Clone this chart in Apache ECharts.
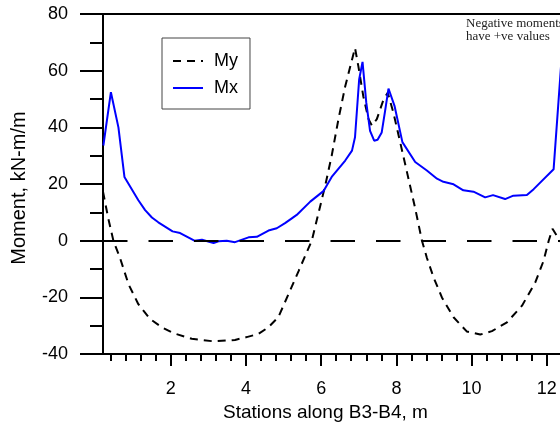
<!DOCTYPE html>
<html>
<head>
<meta charset="utf-8">
<script src="https://cdn.jsdelivr.net/npm/echarts@6/dist/echarts.min.js"></script>
<style>
  html, body { margin: 0; padding: 0; background: #fff; }
  #chart { width: 560px; height: 427px; }
</style>
</head>
<body>
<div id="chart"></div>
<script>
// stations (m) and moments (kN-m/m)
const myStations = [0.2, 0.34, 0.48, 0.65, 0.88, 1.14, 1.45, 1.76, 2.07, 2.56, 3.14, 3.71, 4.02, 4.33, 4.6, 4.86, 5.13, 5.4, 5.75, 6.11, 6.28, 6.46, 6.64, 6.9, 6.99, 7.12, 7.26, 7.35, 7.48, 7.66, 7.77, 7.92, 8.1, 8.28, 8.5, 8.68, 8.81, 8.99, 9.21, 9.52, 9.87, 10.23, 10.54, 10.94, 11.34, 11.69, 11.91, 12.05, 12.15, 12.4];
const myValues = [17.3, 7.9, -0.2, -6, -15.4, -22.4, -27.6, -30.5, -32.6, -34.6, -35.5, -35.0, -34, -32.9, -30.5, -27, -18.9, -10.7, 0, 19.6, 30, 42.9, 54.5, 68, 61.5, 51, 42.9, 40.6, 42.9, 49.9, 52.2, 45.2, 34.8, 24.3, 11.4, 0, -6, -13, -20, -27, -32, -33.1, -31.9, -28.8, -22.9, -14.8, -7.2, 0, 4.2, -1];

const mxStations = [0.21, 0.41, 0.61, 0.77, 1.14, 1.32, 1.5, 1.67, 2.05, 2.25, 2.63, 2.83, 3.14, 3.27, 3.49, 3.71, 4.07, 4.29, 4.6, 4.82, 5.04, 5.22, 5.35, 5.71, 6.06, 6.28, 6.64, 6.82, 6.9, 7.01, 7.1, 7.2, 7.3, 7.41, 7.5, 7.61, 7.7, 7.79, 7.95, 8.16, 8.5, 8.81, 9.08, 9.25, 9.52, 9.78, 10.05, 10.36, 10.57, 10.89, 11.11, 11.47, 11.65, 12.18, 12.45];
const mxValues = [33.6, 52.4, 40, 22.5, 14.3, 10.8, 8.2, 6.5, 3.3, 2.7, 0, 0.35, -0.8, -0.2, 0, -0.5, 1.2, 1.4, 3.6, 4.4, 6.2, 7.9, 9.1, 13.8, 17.5, 22.5, 28.3, 31.8, 36.5, 56.9, 63.1, 48.7, 38.8, 35.3, 35.6, 38.2, 45.8, 53.7, 47.6, 34.8, 27.8, 24.8, 21.9, 20.8, 19.9, 17.8, 17.3, 15.3, 16.1, 14.7, 15.9, 16.1, 18.2, 25.2, 75];

const xMajorTicks = [2, 4, 6, 8, 10, 12];
const xMinorTicks = [0.4, 0.8, 1.2, 1.6, 2.4, 2.8, 3.2, 3.6, 4.4, 4.8, 5.2, 5.6, 6.4, 6.8, 7.2, 7.6, 8.4, 8.8, 9.2, 9.6, 10.4, 10.8, 11.2, 11.6];

function pairs(xs, ys) {
    return xs.map(function (x, i) { return [x, ys[i]]; });
}

var font = 'Liberation Sans, Arial, sans-serif';
var chart = echarts.init(document.getElementById('chart'), null, { renderer: 'canvas' });

// the plot runs past the right edge of the picture, so the axis stops at 12.35
var axisCommon = {
    type: 'value',
    min: 0.2,
    max: 12.35,
    splitLine: { show: false }
};

var option = {
    animation: false,
    backgroundColor: '#fff',
    grid: { left: 103, top: 14, right: 0, height: 343 },
    legend: {
        orient: 'vertical',
        left: 162,
        top: 38,
        padding: [14, 12, 12, 10],
        itemWidth: 30,
        itemHeight: 14,
        itemGap: 9,
        borderColor: '#444',
        borderWidth: 1,
        itemStyle: { opacity: 0 },
        textStyle: { fontFamily: font, fontSize: 18, color: '#000', padding: [0, 0, 0, 6] },
        data: ['My', 'Mx']
    },
    xAxis: [
        Object.assign({}, axisCommon, {
            position: 'bottom',
            name: 'Stations along B3-B4, m',
            nameLocation: 'middle',
            nameGap: 47,
            nameTextStyle: { fontFamily: font, fontSize: 19, color: '#000', padding: [0, 12, 0, 0] },
            axisLine: { onZero: false, lineStyle: { color: '#000', width: 2 } },
            axisTick: { customValues: xMajorTicks, length: 12, lineStyle: { color: '#000', width: 2 } },
            axisLabel: { customValues: xMajorTicks, margin: 26, fontFamily: font, fontSize: 18, color: '#000' }
        }),
        Object.assign({}, axisCommon, {
            position: 'bottom',
            axisLine: { show: false, onZero: false },
            axisTick: { customValues: xMinorTicks, length: 7, lineStyle: { color: '#000', width: 2 } },
            axisLabel: { show: false }
        }),
        Object.assign({}, axisCommon, {
            position: 'top',
            axisLine: { onZero: false, lineStyle: { color: '#000', width: 2 } },
            axisTick: { show: false },
            axisLabel: { show: false }
        })
    ],
    yAxis: {
        type: 'value',
        min: -40,
        max: 80,
        interval: 20,
        name: 'Moment, kN-m/m',
        nameLocation: 'middle',
        nameGap: 74,
        nameTextStyle: { fontFamily: font, fontSize: 20, color: '#000', padding: [0, 8, 0, 0] },
        splitLine: { show: false },
        axisLine: { onZero: false, lineStyle: { color: '#000', width: 2 } },
        axisTick: { length: 23, lineStyle: { color: '#000', width: 2 } },
        minorTick: { show: true, splitNumber: 2, length: 13, lineStyle: { color: '#000', width: 2 } },
        axisLabel: { margin: 35, fontFamily: font, fontSize: 18, color: '#000' }
    },
    graphic: [
        {
            type: 'text',
            left: 466,
            top: 17,
            style: {
                text: 'Negative moments\nhave +ve values',
                font: '13px "Liberation Serif", "Times New Roman", serif',
                lineHeight: 13,
                fill: '#222'
            }
        }
    ],
    series: [
        {
            name: 'My',
            type: 'line',
            symbol: 'none',
            data: pairs(myStations, myValues),
            lineStyle: { color: '#000', width: 2, type: [8, 6] },
            itemStyle: { color: '#000' },
            markLine: {
                silent: true,
                symbol: 'none',
                label: { show: false },
                lineStyle: { color: '#000', width: 2, type: [24.5, 21] },
                data: [{ yAxis: 0 }]
            }
        },
        {
            name: 'Mx',
            type: 'line',
            symbol: 'none',
            data: pairs(mxStations, mxValues),
            lineStyle: { color: '#0000ff', width: 2 },
            itemStyle: { color: '#0000ff' }
        }
    ]
};

chart.setOption(option);
</script>
</body>
</html>
